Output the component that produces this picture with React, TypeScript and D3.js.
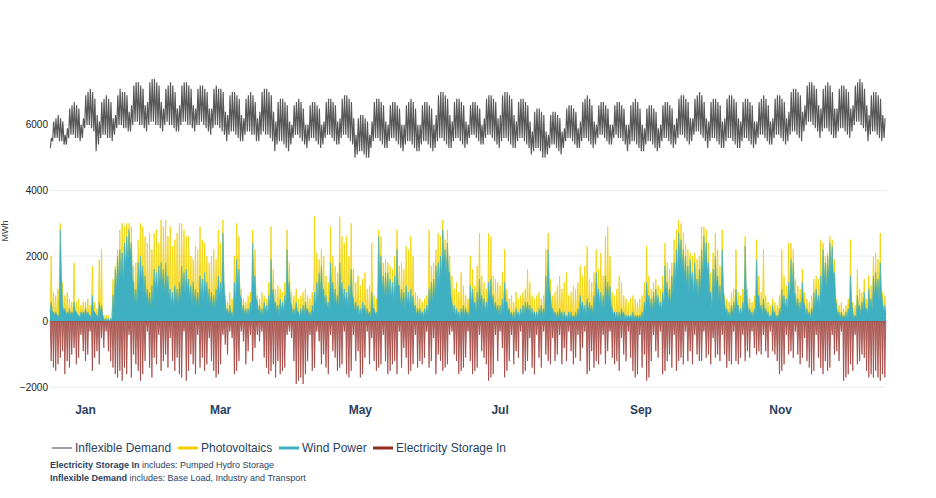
import React from 'react';
import * as d3 from 'd3';

// ---------- DATA (values in hundreds of MWh, one value per day) ----------
const MONTH_LABELS = ['Jan', 'Mar', 'May', 'Jul', 'Sep', 'Nov'];
const MONTH_START_DAY = [0, 59, 120, 181, 243, 304];
const MONTH_LENGTH = [31, 31, 31, 31, 30, 30];
const Y_TICKS = [-2000, 0, 2000, 4000, 6000];
const DAYS_IN_YEAR = 365;

// daily wind peak
const WIND = [
  6,3,3,2,28,5,4,3,4,3, 6,3,2,3,3,4,3,2,8,3, 2,6,5,1,1,1,1,8,16,20,
  22,21,24,26,28,24,12,10,18,20, 17,14,10,9,11,16,15,17,18,16, 18,14,10,9,11,10,12,17,15,16,
  13,11,12,10,9,14,13,15,12,10, 9,8,10,14,12,27,6,4,5,3, 12,19,16,7,5,4,4,6,24,14,
  6,5,4,6,5,8,19,10,6,5, 7,6,8,22,12,5,4,6,3,4, 5,6,4,3,5,9,12,15,17,10,
  8,6,18,12,10,8,18,12,10,9, 11,16,7,6,5,4,6,5,4,3, 9,4,3,26,20,14,15,15,13,12,
  14,22,11,10,9,11,9,10,8,5, 4,4,3,4,5,10,12,13,17,18, 20,28,22,24,15,6,5,4,3,4,
  5,4,3,11,10,6,9,13,8,7, 6,12,13,8,6,5,5,7,12,6, 4,3,3,4,3,4,5,6,6,5,
  4,3,3,4,5,4,14,22,8,4, 3,3,4,3,3,2,3,3,2,3, 4,8,6,5,7,6,5,8,15,10,
  9,8,14,12,11,4,3,3,3,4, 3,2,2,2,3,2,2,2,3,6, 12,8,7,9,10,8,6,9,17,12,
  10,14,18,22,27,25,22,20,17,19, 15,18,13,16,22,26,24,18,9,16, 20,14,11,22,6,4,3,5,6,10,
  5,4,6,23,6,4,3,4,19,8, 5,7,4,3,2,5,3,2,4,10, 8,7,12,19,18,8,7,6,12,5,
  4,3,4,9,10,8,14,22,18,20, 24,23,15,4,3,3,2,3,4,14, 3,2,8,5,6,9,4,10,7,14,
  15,13,18,6,5,
];

// daily wind valley
const WIND_LOW = [
  3,2,2,1,14,3,2,2,2,2, 3,2,1,2,2,2,2,1,3,2, 1,3,2,0,0,0,0,4,9,12,
  14,12,16,18,20,13,6,5,9,12, 9,7,5,4,6,9,8,10,11,8, 10,7,5,4,6,5,6,9,8,9,
  7,5,6,5,4,7,6,8,6,5, 4,4,5,7,6,12,3,2,2,1, 5,10,8,3,2,2,2,3,11,7,
  3,2,2,3,2,4,8,5,3,2, 3,3,4,10,6,2,2,3,1,2, 2,3,2,1,2,4,6,8,9,5,
  4,3,8,6,5,4,9,6,5,4, 5,8,3,3,2,2,3,2,2,1, 4,2,1,12,10,7,8,8,7,6,
  7,11,5,5,4,5,4,5,4,2, 2,2,1,2,2,5,6,7,10,11, 13,18,14,15,8,3,2,2,1,2,
  2,2,1,5,5,3,4,6,4,3, 3,6,6,4,3,2,2,3,6,3, 2,1,1,2,1,2,2,3,3,2,
  2,1,1,2,2,2,6,11,4,2, 1,1,2,1,1,1,1,1,1,1, 2,4,3,2,3,3,2,4,7,5,
  4,4,7,6,5,2,1,1,1,2, 1,1,1,1,1,1,1,1,1,3, 6,4,3,4,5,4,3,4,9,6,
  5,8,11,14,18,16,13,11,9,12, 8,10,7,9,13,17,15,9,4,8, 11,7,5,10,3,2,1,2,3,5,
  2,2,3,10,3,2,1,2,8,4, 2,3,2,1,1,2,1,1,2,5, 4,3,6,10,9,4,3,3,6,2,
  2,1,2,4,5,4,7,12,10,12, 15,14,7,2,1,1,1,1,2,6, 1,1,4,2,3,4,2,5,3,7,
  8,6,9,3,2,
];

// daily peak of wind + photovoltaics
const PV_TOP = [
  20,9,8,10,30,12,8,9,7,6, 18,6,7,5,6,6,7,5,17,6, 4,19,22,2,2,2,1,13,17,22,
  28,30,29,30,30,29,17,18,25,30, 29,26,24,27,22,27,28,24,31,29, 31,26,29,23,25,27,30,30,28,26,
  26,20,19,23,22,29,25,24,20,18, 20,22,19,28,24,31,8,6,9,7, 20,30,26,10,7,6,8,9,28,22,
  8,7,9,8,7,12,29,16,10,11, 10,9,12,28,18,9,8,10,7,8, 9,10,8,7,9,32,21,19,22,20,
  14,12,29,20,17,15,32,26,24,26, 20,30,16,12,14,11,13,15,10,11, 24,8,7,28,26,18,19,18,17,16,
  20,28,17,18,16,23,22,26,20,9, 8,7,6,7,8,28,17,18,22,27, 26,31,25,28,20,14,10,12,9,15,
  11,8,7,20,16,11,17,27,14,12, 10,27,26,14,13,12,11,15,22,10, 7,8,6,9,7,8,9,10,16,12,
  8,7,8,9,7,8,22,27,13,8, 9,11,14,10,12,15,8,9,11,10, 12,17,14,17,23,13,12,15,22,16,
  21,14,26,29,20,9,8,10,14,12, 8,7,6,7,8,7,6,7,8,12, 23,14,10,12,13,11,10,14,24,18,
  16,18,25,28,31,30,27,24,22,21, 20,21,19,20,29,29,28,24,15,21, 27,22,17,28,8,7,6,9,10,22,
  9,8,10,26,10,7,6,8,25,14, 9,22,8,6,5,7,6,5,8,22, 14,11,24,24,22,13,11,10,16,9,
  7,6,8,13,14,13,25,24,20,21, 26,25,19,7,5,6,4,5,7,25, 6,5,16,10,9,13,7,14,11,20,
  21,19,27,9,8,
];

const STORAGE_IN = [
  -12,-14,-15,-13,-11,-9,-16,-12,-14,-10, -8,-13,-11,-4,-9,-12,-10,-3,-15,-11, -9,-13,-5,-8,-3,-9,-12,-14,-16,-17,
  -15,-18,-14,-16,-4,-17,-10,-13,-15,-18, -16,-12,-3,-14,-17,-11,-13,-4,-15,-12, -10,-14,-5,-12,-15,-11,-16,-17,-3,-18,
  -15,-10,-13,-16,-4,-14,-11,-15,-13,-5, -12,-15,-17,-16,-13,-4,-7,-10,-3,-5, -16,-15,-12,-3,-6,-13,-9,-4,-12,-8,
  -4,-6,-3,-11,-14,-16,-15,-13,-17,-12, -16,-15,-14,-4,-3,-5,-12,-19,-18,-17, -19,-16,-12,-4,-15,-14,-3,-6,-13,-10,
  -14,-16,-4,-9,-11,-15,-14,-13,-3,-16, -17,-15,-4,-12,-9,-17,-16,-11,-3,-13, -5,-12,-15,-14,-13,-4,-12,-16,-15,-13,
  -12,-16,-3,-14,-8,-11,-16,-15,-13,-4, -14,-12,-13,-11,-3,-14,-12,-5,-16,-10, -12,-15,-14,-13,-4,-3,-10,-12,-16,-15,
  -14,-11,-3,-12,-16,-15,-14,-4,-9,-11, -13,-18,-17,-16,-4,-12,-3,-8,-17,-15, -12,-4,-13,-9,-11,-3,-16,-15,-12,-5,
  -14,-16,-4,-11,-14,-3,-10,-12,-13,-5, -12,-10,-4,-13,-8,-12,-3,-9,-13,-11, -4,-12,-8,-3,-16,-15,-9,-14,-12,-13,
  -10,-4,-13,-9,-3,-11,-13,-12,-15,-5, -10,-12,-3,-11,-15,-17,-16,-4,-14,-10, -18,-17,-12,-4,-9,-11,-3,-16,-15,-12,
  -10,-14,-4,-15,-12,-11,-13,-3,-12,-9, -13,-4,-10,-12,-12,-3,-11,-10,-13,-5, -11,-10,-12,-4,-10,-14,-12,-13,-3,-12,
  -13,-11,-4,-12,-9,-11,-3,-8,-10,-9, -10,-4,-9,-11,-3,-9,-10,-12,-16,-15, -13,-4,-10,-9,-11,-3,-10,-13,-11,-5,
  -12,-14,-16,-15,-4,-11,-14,-16,-12,-15, -14,-4,-10,-9,-12,-3,-18,-17,-16,-13, -15,-4,-13,-12,-10,-11,-15,-17,-16,-17,
  -15,-17,-18,-16,-17,
];

// daily high / night low of inflexible demand
const DEMAND_HIGH = [
  56,61,62,63,62,61,57, 59,65,66,67,66,65,60, 62,69,70,71,70,68,63, 61,67,68,69,68,67,62,
  63,69,71,70,70,69,64, 66,72,73,73,72,71,66, 67,73,74,74,73,72,67, 65,71,72,73,72,70,65,
  66,72,73,73,72,71,66, 65,71,72,72,71,70,65, 65,71,72,71,71,70,64, 63,69,70,70,69,68,63,
  62,68,69,70,69,67,62, 64,70,71,71,70,69,64, 61,67,68,68,67,66,61, 60,66,67,68,67,65,60,
  60,66,67,67,66,65,60, 61,67,68,68,67,66,61, 62,68,69,69,68,67,62, 57,62,63,63,62,61,57,
  61,67,68,68,67,66,61, 60,66,67,67,66,65,60, 60,66,67,68,67,65,60, 60,66,67,67,66,65,60,
  63,69,70,70,69,68,63, 61,67,68,68,67,66,61, 60,66,67,67,66,65,60, 62,68,69,69,68,67,62,
  63,69,70,70,69,68,63, 61,67,68,68,67,66,61, 58,64,65,65,64,63,58, 57,63,64,64,63,62,58,
  59,65,66,66,65,64,59, 61,67,68,69,68,66,61, 60,66,67,67,66,65,60, 60,66,67,67,66,65,60,
  60,66,67,68,67,65,60, 59,65,66,66,65,64,59, 60,66,67,67,66,65,60, 62,68,69,69,68,67,62,
  62,68,69,70,69,67,62, 61,67,68,68,67,66,61, 62,68,69,69,68,67,62, 61,67,68,68,67,66,61,
  61,67,68,69,68,66,61, 62,68,69,69,68,67,62, 64,70,71,71,70,69,64, 66,72,73,73,72,71,66,
  65,71,72,73,72,70,65, 65,71,72,72,71,70,65, 66,72,73,74,73,71,66, 63,69,70,70,69,68,63,
  62,
];

const DEMAND_LOW = [
  53,55,56,56,55,55,54, 54,56,57,57,56,56,55, 56,59,60,60,59,58,52, 54,56,57,57,56,56,55,
  57,59,60,60,59,59,58, 58,60,61,61,60,60,59, 58,60,61,61,60,60,59, 58,60,61,60,60,59,58,
  58,60,61,61,60,60,59, 58,60,60,61,60,59,58, 57,59,60,60,59,58,57, 55,57,58,58,57,56,55,
  55,57,58,58,57,57,55, 55,57,58,57,57,56,55, 52,54,55,55,54,53,52, 54,56,57,57,56,55,54,
  53,55,56,56,55,54,53, 54,56,57,57,56,55,54, 54,56,57,57,56,55,54, 50,51,52,52,51,50,50,
  53,55,56,56,55,54,53, 53,55,56,56,55,54,53, 52,54,55,55,54,53,52, 52,54,55,55,54,53,52,
  53,55,56,56,55,54,53, 53,55,56,56,55,54,53, 54,56,57,57,56,55,54, 54,56,57,57,56,55,54,
  53,55,56,56,55,54,53, 53,55,56,56,55,54,53, 51,52,53,53,52,50,50, 51,53,54,54,53,52,51,
  53,55,56,56,55,54,53, 53,55,56,56,55,54,53, 54,56,57,57,56,55,54, 54,56,57,56,56,55,54,
  52,54,55,55,54,53,52, 52,54,55,55,54,53,52, 53,55,56,56,55,54,53, 54,56,57,57,56,55,54,
  55,57,58,58,57,56,55, 53,55,56,56,55,54,53, 53,55,56,56,55,54,53, 53,55,56,56,55,54,53,
  54,56,57,57,56,55,54, 54,56,57,57,56,55,54, 55,57,58,58,57,56,55, 58,60,61,61,60,59,58,
  56,58,59,59,58,57,56, 56,58,59,59,58,57,56, 58,60,61,61,60,59,58, 55,57,58,58,57,56,55,
  56,
];

const LEGEND = [
  { name: 'Inflexible Demand', color: '#8a8a8a', width: 1.6 },
  { name: 'Photovoltaics', color: '#f3d000', width: 3 },
  { name: 'Wind Power', color: '#3fb0c2', width: 3 },
  { name: 'Electricity Storage In', color: '#962b25', width: 3 },
];

// ---------- CHART ----------
const W = 936;
const H = 498;
const FONT = "'Liberation Sans', Arial, Helvetica, sans-serif";
const NAVY = '#2a3f5f';

export default function App() {
  const x = d3.scaleLinear().domain([0, DAYS_IN_YEAR]).range([50, 886]);
  const y = d3.scaleLinear().domain([-2200, 8200]).range([393.86, 52.74]);
  const U = 100;

  type P = [number, number];
  const line = d3.line<P>().x((p) => x(p[0])).y((p) => y(p[1]));
  const area = d3
    .area<P>()
    .x((p) => x(p[0]))
    .y0(y(0))
    .y1((p) => y(p[1]));

  const windPts: P[] = WIND.flatMap((v, i) => [
    [i + 0.5, v * U],
    [i + 1, WIND_LOW[i] * U],
  ] as P[]);
  windPts.unshift([0, WIND_LOW[0] * U]);
  const pvPts: P[] = PV_TOP.flatMap((v, i) => [
    [i + 0.12, WIND_LOW[i] * U],
    [i + 0.5, v * U],
    [i + 0.88, WIND_LOW[i] * U],
  ] as P[]);
  const stPts: P[] = STORAGE_IN.flatMap((v, i) => [
    [i + 0.1, 0],
    [i + 0.5, v * U],
    [i + 0.9, 0],
  ] as P[]);
  const demPts: P[] = DEMAND_HIGH.flatMap((v, i) => [
    [i + 0.15, DEMAND_LOW[i] * U],
    [i + 0.6, v * U],
  ] as P[]);

  const legendX = [52, 178, 279, 373];

  return (
    <svg
      width={W}
      height={H}
      style={{ position: 'absolute', left: 0, top: 0, background: '#fff' }}
      fontFamily={FONT}
    >
      <rect width={W} height={H} fill="#fff" />
      {/* grid */}
      {Y_TICKS.filter((t) => t !== 0).map((t) => (
        <line key={t} x1={x(0)} x2={x(DAYS_IN_YEAR)} y1={y(t)} y2={y(t)} stroke="#ececec" strokeWidth={1} />
      ))}
      {/* storage */}
      <path d={area(stPts) || ''} fill="#962b25" fillOpacity={0.6} />
      <path d={line(stPts) || ''} fill="none" stroke="#962b25" strokeWidth={0.7} strokeOpacity={0.9} />
      {/* PV */}
      <path d={area(pvPts) || ''} fill="#f3d000" fillOpacity={0.5} />
      <path d={line(pvPts) || ''} fill="none" stroke="#f3d000" strokeWidth={0.8} />
      {/* wind */}
      <path d={area(windPts) || ''} fill="#3fb0c2" />
      <path d={line(windPts) || ''} fill="none" stroke="#3fb0c2" strokeWidth={0.6} />
      {/* zero line */}
      <line x1={x(0)} x2={x(DAYS_IN_YEAR)} y1={y(0)} y2={y(0)} stroke="#9a5a55" strokeWidth={1.2} />
      {/* demand */}
      <path d={line(demPts) || ''} fill="none" stroke="#3a3a3a" strokeWidth={1.15} strokeOpacity={0.85} />

      {/* y tick labels */}
      {Y_TICKS.map((t) => (
        <text key={t} x={48} y={y(t)} dy="0.35em" textAnchor="end" fontSize={10} fill="#222">
          {t < 0 ? '\u2212' + Math.abs(t) : String(t)}
        </text>
      ))}
      <text transform={`translate(8,${231}) rotate(-90)`} textAnchor="middle" fontSize={9} fill="#444">
        MWh
      </text>

      {/* month labels */}
      {MONTH_LABELS.map((m, i) => (
        <text
          key={m}
          x={x(MONTH_START_DAY[i] + MONTH_LENGTH[i] / 2)}
          y={414}
          textAnchor="middle"
          fontSize={12}
          fontWeight="bold"
          fill={NAVY}
        >
          {m}
        </text>
      ))}

      {/* legend */}
      {LEGEND.map((l, i) => (
        <g key={l.name} transform={`translate(${legendX[i]},448)`}>
          <line x1={0} x2={20} y1={0} y2={0} stroke={l.color} strokeWidth={l.width} />
          <text x={23} y={0} dy="0.35em" fontSize={12} fill={NAVY}>
            {l.name}
          </text>
        </g>
      ))}

      {/* notes */}
      <text x={50} y={468} fontSize={9} fill={NAVY}>
        <tspan fontWeight="bold">Electricity Storage In</tspan>
        <tspan> includes: Pumped Hydro Storage</tspan>
      </text>
      <text x={50} y={481} fontSize={9} fill={NAVY}>
        <tspan fontWeight="bold">Inflexible Demand</tspan>
        <tspan> includes: Base Load, Industry and Transport</tspan>
      </text>
    </svg>
  );
}
